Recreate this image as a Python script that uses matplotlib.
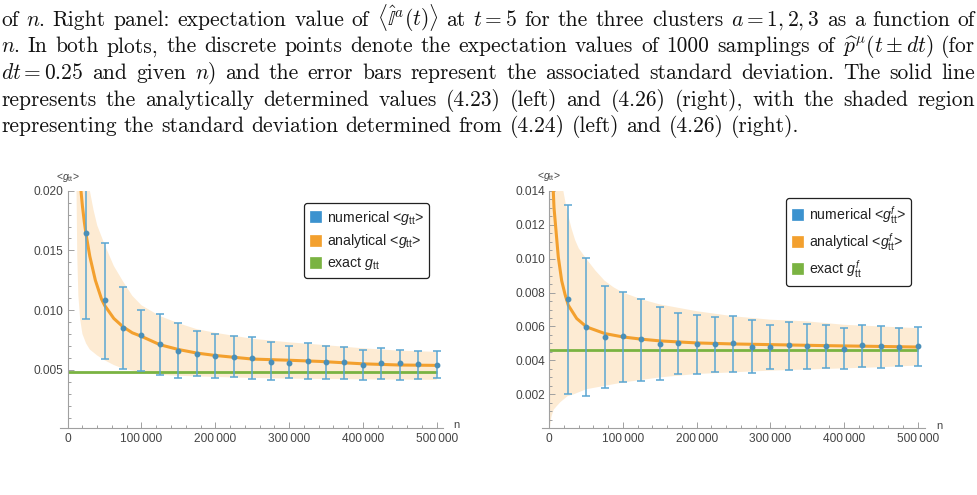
import numpy as np
import matplotlib
matplotlib.use("Agg")
import matplotlib.pyplot as plt
from matplotlib.patches import Patch
from matplotlib.ticker import FixedLocator, FuncFormatter

W, H = 978, 495

plt.rcParams["font.family"] = ["Liberation Sans", "DejaVu Sans"]
plt.rcParams["mathtext.fontset"] = "custom"
plt.rcParams["mathtext.rm"] = "Liberation Sans"
plt.rcParams["mathtext.it"] = "Liberation Sans:italic"
plt.rcParams["mathtext.bf"] = "Liberation Sans:bold"

# caption lines above the plots (last one is ragged, the rest justified)
caption = [
    r"of $n$. Right panel: expectation value of $\langle\hat{\mathbb{I}}^a(t)\rangle$ at $t=5$ for the three clusters $a=1,2,3$ as a function of",
    r"$n$. In both plots, the discrete points denote the expectation values of 1000 samplings of $\widehat{p}^{\mu}(t\pm dt)$ (for",
    r"$dt=0.25$ and given $n$) and the error bars represent the associated standard deviation. The solid line",
    r"represents the analytically determined values (4.23) (left) and (4.26) (right), with the shaded region",
    r"representing the standard deviation determined from (4.24) (left) and (4.26) (right).",
]

# sampled n values (same for both panels)
n_samples = [25000, 50000, 75000, 100000, 125000, 150000, 175000, 200000, 225000, 250000,
             275000, 300000, 325000, 350000, 375000, 400000, 425000, 450000, 475000, 500000]

# left panel: numerical <g_tt>, error bar ends
left_mean = [0.01648, 0.01081, 0.00849, 0.00788, 0.00718, 0.00655, 0.00635, 0.00618, 0.00611, 0.00600,
             0.00567, 0.00560, 0.00574, 0.00564, 0.00564, 0.00542, 0.00556, 0.00556, 0.00547, 0.00542]
left_hi = [0.02370, 0.01561, 0.01192, 0.01002, 0.00968, 0.00890, 0.00829, 0.00801, 0.00780, 0.00774,
           0.00735, 0.00703, 0.00721, 0.00701, 0.00690, 0.00668, 0.00681, 0.00668, 0.00659, 0.00654]
left_lo = [0.00927, 0.00589, 0.00508, 0.00486, 0.00453, 0.00429, 0.00450, 0.00435, 0.00438, 0.00423,
           0.00415, 0.00428, 0.00420, 0.00425, 0.00425, 0.00416, 0.00427, 0.00416, 0.00425, 0.00430]
left_exact = 0.00483

# left panel: analytical curve
left_curve_n = [18000, 20000, 22500, 25000, 30000, 37500, 46000, 50000, 62500, 75000, 87500,
                100000, 125000, 150000, 175000, 200000, 250000, 300000, 342000, 400000, 450000, 500000]
left_curve = [0.0200, 0.0187, 0.0174, 0.0163, 0.0145, 0.0125, 0.0109, 0.0104, 0.0093, 0.0086, 0.0081,
              0.0078, 0.0071, 0.0067, 0.0064, 0.0062, 0.0059, 0.0058, 0.0057, 0.0055, 0.0054, 0.00537]

# left panel: shaded std band
left_band_lo_n = [12000, 13000, 14500, 17000, 20000, 25000, 30000, 40000, 50000, 62500, 75000,
                  100000, 125000, 150000, 200000, 250000, 300000, 400000, 500000]
left_band_lo = [0.0200, 0.0145, 0.0112, 0.0092, 0.0080, 0.0072, 0.0067, 0.0062, 0.0058, 0.0054, 0.0051,
                0.0048, 0.00458, 0.00450, 0.00440, 0.00432, 0.00426, 0.00420, 0.00416]
left_band_hi_n = [30000, 35000, 40000, 50000, 62500, 75000, 87500, 100000, 125000, 150000, 175000,
                  200000, 250000, 300000, 342000, 400000, 450000, 500000]
left_band_hi = [0.0200, 0.0184, 0.0171, 0.0155, 0.0137, 0.0124, 0.0112, 0.0104, 0.0095, 0.0089, 0.0084,
                0.0081, 0.0076, 0.0073, 0.0071, 0.0068, 0.0066, 0.0065]

# right panel: numerical <g^f_tt>, error bar ends
right_mean = [0.00759, 0.00597, 0.00538, 0.00544, 0.00524, 0.00499, 0.00505, 0.00495, 0.00499, 0.00505,
              0.00479, 0.00479, 0.00491, 0.00483, 0.00483, 0.00469, 0.00489, 0.00485, 0.00479, 0.00483]
right_hi = [0.01315, 0.01001, 0.00837, 0.00804, 0.00762, 0.00715, 0.00682, 0.00666, 0.00656, 0.00664,
            0.00637, 0.00607, 0.00629, 0.00613, 0.00609, 0.00593, 0.00611, 0.00603, 0.00593, 0.00595]
right_lo = [0.00200, 0.00188, 0.00237, 0.00274, 0.00278, 0.00286, 0.00322, 0.00322, 0.00333, 0.00333,
            0.00324, 0.00347, 0.00343, 0.00347, 0.00353, 0.00347, 0.00361, 0.00355, 0.00365, 0.00370]
right_exact = 0.00464

right_curve_n = [5400, 6400, 8200, 12200, 16800, 21300, 25800, 37200, 50700, 75600, 100400,
                 125400, 150300, 200000, 250000, 376000, 500000]
right_curve = [0.0140, 0.0130, 0.0121, 0.0101, 0.0087, 0.0079, 0.00725, 0.00647, 0.00597, 0.00558,
               0.00538, 0.00525, 0.00515, 0.00503, 0.00497, 0.00487, 0.00479]

right_band_lo_n = [500, 1500, 3000, 6000, 10000, 15000, 25000, 33000, 50000, 75000, 100000,
                   150000, 200000, 250000, 300000, 375000, 450000, 500000]
right_band_lo = [0.0000, 0.0003, 0.0007, 0.0011, 0.0013, 0.00154, 0.0019, 0.0020, 0.0023, 0.0025,
                 0.0027, 0.0030, 0.0032, 0.0033, 0.0034, 0.0035, 0.0036, 0.0037]
right_band_hi_n = [1000, 19000, 22000, 26000, 30000, 35000, 40000, 50000, 62500, 75000, 87500,
                   100000, 125000, 150000, 175000, 200000, 250000, 300000, 350000, 400000, 450000, 500000]
right_band_hi = [0.0140, 0.0140, 0.0133, 0.0125, 0.0118, 0.0111, 0.0106, 0.0100, 0.0093, 0.0087, 0.0083,
                 0.0080, 0.0076, 0.0073, 0.0071, 0.0069, 0.0066, 0.0064, 0.0063, 0.0061, 0.0060, 0.0059]

x_major = [0, 100000, 200000, 300000, 400000, 500000]

BAND = "#fdebd3"
ORANGE = "#f3a02e"
GREEN = "#7ab342"
ERR = "#5aa6d2"
POINT = "#4a8fb8"
LEG_BLUE = "#3b92cf"
AXIS = "#a0a0a0"
LABEL = "#444444"

fig = plt.figure(figsize=(W / 100, H / 100), dpi=100)
fig.patch.set_facecolor("white")
renderer = fig.canvas.get_renderer()


def split_tokens(line):
    out, cur, inmath = [], "", False
    for ch in line:
        if ch == "$":
            inmath = not inmath
        if ch == " " and not inmath:
            out.append(cur)
            cur = ""
        else:
            cur += ch
    out.append(cur)
    return out


def tok_width(s, fs):
    t = fig.text(0, 0, s, fontsize=fs, family="cmr10", math_fontfamily="cm")
    w = t.get_window_extent(renderer).width
    t.remove()
    return w


def draw_caption(x0=1.0, x1=975.0, last_end=795.0, baselines=(25.5, 52.2, 78.9, 105.6, 132.3)):
    # pick the font size so the ragged last line ends where it does in the page
    ref = 15.0
    toks = split_tokens(caption[-1])
    nat = sum(tok_width(t, ref) for t in toks) + 0.333 * ref * 100 / 72 * (len(toks) - 1)
    fs = ref * (last_end - x0) / nat
    space = 0.333 * fs * 100 / 72
    for i, line in enumerate(caption):
        toks = split_tokens(line)
        widths = [tok_width(t, fs) for t in toks]
        if i < len(caption) - 1:
            gap = (x1 - x0 - sum(widths)) / (len(toks) - 1)
        else:
            gap = space
        x = x0
        for t, w in zip(toks, widths):
            fig.text(x / W, 1 - baselines[i] / H, t, fontsize=fs, family="cmr10",
                     math_fontfamily="cm", ha="left", va="baseline", color="#111111")
            x += w + gap


def make_panel(box, xlim, ylim, y_major, y_minor):
    left, top, right, bottom = box
    ax = fig.add_axes([left / W, 1 - bottom / H, (right - left) / W, (bottom - top) / H])
    ax.set_xlim(*xlim)
    ax.set_ylim(*ylim)
    ax.patch.set_alpha(0)
    for s in ("top", "right"):
        ax.spines[s].set_visible(False)
    ax.spines["left"].set_position(("data", 0))
    for s in ("left", "bottom"):
        ax.spines[s].set_color(AXIS)
        ax.spines[s].set_linewidth(0.8)
    ax.xaxis.set_major_locator(FixedLocator(x_major))
    ax.xaxis.set_minor_locator(FixedLocator([v for v in range(20000, 500001, 20000) if v % 100000]))
    ax.yaxis.set_major_locator(FixedLocator(y_major))
    ax.yaxis.set_minor_locator(FixedLocator(y_minor))
    ax.xaxis.set_major_formatter(FuncFormatter(lambda v, p: f"{int(v):,}".replace(",", "\u2009")))
    ax.yaxis.set_major_formatter(FuncFormatter(lambda v, p: f"{v:.3f}"))
    ax.tick_params(which="both", direction="in", color=AXIS, labelcolor=LABEL, labelsize=8.6, width=0.7)
    ax.tick_params(which="major", length=4.0)
    ax.tick_params(which="minor", length=2.3)
    ax.tick_params(axis="x", pad=3.5)
    ax.tick_params(axis="y", pad=3.0)
    return ax


def draw_data(ax, mean, hi, lo, exact, cn, cv, bl_n, bl, bh_n, bh):
    poly_x = np.concatenate([bl_n, bh_n[::-1]])
    poly_y = np.concatenate([bl, bh[::-1]])
    ax.fill(poly_x, poly_y, color=BAND, lw=0, zorder=1)
    ax.plot([0, n_samples[-1]], [exact, exact], color=GREEN, lw=2.0, zorder=2, solid_capstyle="butt")
    ax.plot(cn, cv, color=ORANGE, lw=2.2, zorder=3)
    mean = np.array(mean)
    yerr = [mean - np.array(lo), np.array(hi) - mean]
    ax.errorbar(n_samples, mean, yerr=yerr, fmt="o", ms=3.2, color=POINT, ecolor=ERR,
                elinewidth=1.1, capsize=3.0, capthick=1.1, zorder=4)


def draw_legend(ax, labels, anchor):
    handles = [Patch(facecolor=c, edgecolor=c, lw=0.5) for c in (LEG_BLUE, ORANGE, GREEN)]
    leg = ax.legend(handles, labels, loc="upper left", bbox_to_anchor=(anchor[0] / W, 1 - anchor[1] / H),
                    bbox_transform=fig.transFigure, fontsize=10.2, frameon=True, fancybox=True,
                    edgecolor="#222222", framealpha=1, handlelength=0.8, handleheight=0.8,
                    handletextpad=0.4, labelspacing=0.38, borderpad=0.4, borderaxespad=0)
    leg.get_frame().set_linewidth(0.9)
    for t in leg.get_texts():
        t.set_color("#222222")
    return leg


draw_caption()

# left panel
axl = make_panel((60, 190.7, 443, 427.7), (-10400, 508500), (0.00015, 0.0200),
                 [0.005, 0.010, 0.015, 0.020],
                 [v / 1000 for v in range(1, 20) if v % 5])
draw_data(axl, left_mean, left_hi, left_lo, left_exact, left_curve_n, left_curve,
          left_band_lo_n, left_band_lo, left_band_hi_n, left_band_hi)
draw_legend(axl, [r"numerical <$g_{\mathrm{tt}}$>", r"analytical <$g_{\mathrm{tt}}$>",
                  r"exact $g_{\mathrm{tt}}$"], (304, 203))

# right panel
axr = make_panel((541.7, 190.7, 925, 428.3), (-10300, 509900), (0.0, 0.0140),
                 [0.002, 0.004, 0.006, 0.008, 0.010, 0.012, 0.014],
                 [v / 2000 for v in range(1, 28) if v % 4])
draw_data(axr, right_mean, right_hi, right_lo, right_exact, right_curve_n, right_curve,
          right_band_lo_n, right_band_lo, right_band_hi_n, right_band_hi)
draw_legend(axr, [r"numerical <$g^{f}_{\mathrm{tt}}$>", r"analytical <$g^{f}_{\mathrm{tt}}$>",
                  r"exact $g^{f}_{\mathrm{tt}}$"], (786, 198))

# axis labels at the ends of the axes
for x, y in ((67.5, 178), (549, 176)):
    fig.text(x / W, 1 - y / H, r"<$g_{\mathrm{tt}}$>", fontsize=7.5, color=LABEL, ha="center", va="center")
for x, y in ((456, 425), (939, 426)):
    fig.text(x / W, 1 - y / H, "n", fontsize=8, color=LABEL, ha="center", va="center")

fig.savefig("out.png", dpi=100, facecolor="white")
